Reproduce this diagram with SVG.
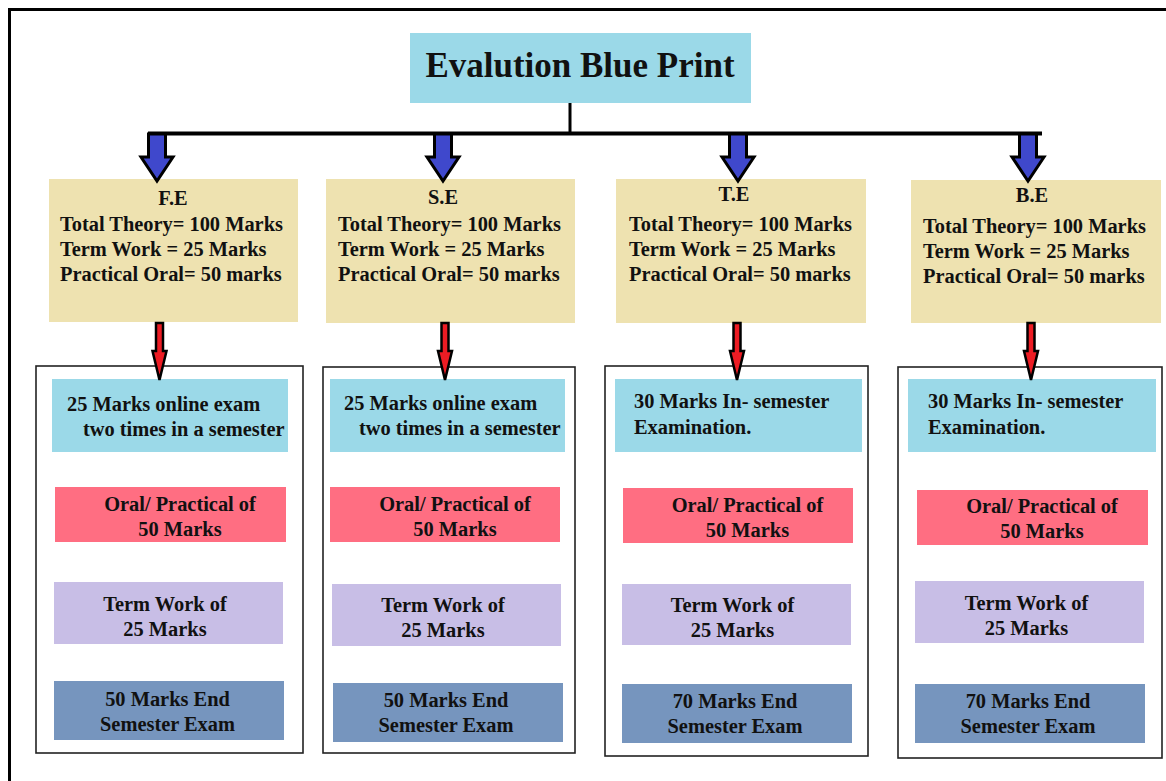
<svg xmlns="http://www.w3.org/2000/svg" xmlns:xlink="http://www.w3.org/1999/xlink" width="1166" height="781" viewBox="0 0 1166 781">
<style>
text{font-family:"Liberation Serif","Times New Roman",serif;font-weight:bold;fill:#111;}
.title{font-size:35px;}
.t{font-size:20.4px;}
.mid{text-anchor:middle;}
.tan{fill:#EEE2B0;}
.cyan{fill:#9BD9E8;}
.pink{fill:#FF6E82;}
.lav{fill:#C8BEE6;}
.steel{fill:#7695BE;}
.col{fill:#fff;stroke:#222;stroke-width:1.6;}
.blue{fill:#3F48CC;stroke:#000;stroke-width:3;stroke-linejoin:miter;}
.red{fill:#ED1C24;stroke:#000;stroke-width:2.5;stroke-linejoin:miter;}
.line{stroke:#000;fill:none;}
</style>
<defs>
<path id="barrow" d="M-8.5,0 H8.5 V23 H16 L0,47 L-16,23 H-8.5 Z"/>
<path id="rarrow" d="M-3.5,0 H3.5 V28 H7 L0,57 L-7,28 H-3.5 Z"/>
</defs>
<rect width="1166" height="781" fill="#fff"/>
<g id="frame">
<path class="line" d="M9.5,781 V9.5 H1166" stroke-width="3"/>
</g>
<g id="title">
<rect x="410" y="33" width="341" height="70" class="cyan"/>
<text x="580" y="77" class="title mid">Evalution Blue Print</text>
</g>
<g id="fe">
<rect x="49" y="179" width="249" height="143" class="tan"/>
<text x="173" y="205" class="t mid">F.E</text>
<text x="60" y="231" class="t">Total Theory= 100 Marks</text>
<text x="60" y="256" class="t">Term Work = 25 Marks</text>
<text x="60" y="281" class="t">Practical Oral= 50 marks</text>
</g>
<g id="se">
<rect x="326" y="179" width="249" height="144" class="tan"/>
<text x="443" y="204" class="t mid">S.E</text>
<text x="338" y="231" class="t">Total Theory= 100 Marks</text>
<text x="338" y="256" class="t">Term Work = 25 Marks</text>
<text x="338" y="281" class="t">Practical Oral= 50 marks</text>
</g>
<g id="te">
<rect x="616" y="179" width="250" height="144" class="tan"/>
<text x="734" y="201" class="t mid">T.E</text>
<text x="629" y="231" class="t">Total Theory= 100 Marks</text>
<text x="629" y="256" class="t">Term Work = 25 Marks</text>
<text x="629" y="281" class="t">Practical Oral= 50 marks</text>
</g>
<g id="be">
<rect x="911" y="180" width="250" height="143" class="tan"/>
<text x="1032" y="202" class="t mid">B.E</text>
<text x="923" y="233" class="t">Total Theory= 100 Marks</text>
<text x="923" y="258" class="t">Term Work = 25 Marks</text>
<text x="923" y="283" class="t">Practical Oral= 50 marks</text>
</g>
<g id="fe-detail">
<rect x="36" y="366" width="267" height="387" class="col"/>
<rect x="52" y="379" width="236" height="73" class="cyan"/>
<text x="67" y="411" class="t">25 Marks online exam</text>
<text x="83" y="436" class="t">two times in a semester</text>
<rect x="55" y="487" width="231" height="55" class="pink"/>
<text x="180" y="511" class="t mid">Oral/ Practical of</text>
<text x="180" y="536" class="t mid">50 Marks</text>
<rect x="54" y="582" width="229" height="62" class="lav"/>
<text x="165" y="611" class="t mid">Term Work of</text>
<text x="165" y="636" class="t mid">25 Marks</text>
<rect x="54" y="681" width="230" height="59" class="steel"/>
<text x="167.5" y="706" class="t mid">50 Marks End</text>
<text x="167.5" y="731" class="t mid">Semester Exam</text>
</g>
<g id="se-detail">
<rect x="323" y="367" width="252" height="386" class="col"/>
<rect x="330" y="379" width="235" height="73" class="cyan"/>
<text x="344" y="410" class="t">25 Marks online exam</text>
<text x="359" y="435" class="t">two times in a semester</text>
<rect x="330" y="487" width="230" height="55" class="pink"/>
<text x="455" y="511" class="t mid">Oral/ Practical of</text>
<text x="455" y="536" class="t mid">50 Marks</text>
<rect x="332" y="584" width="229" height="62" class="lav"/>
<text x="443" y="612" class="t mid">Term Work of</text>
<text x="443" y="637" class="t mid">25 Marks</text>
<rect x="333" y="683" width="230" height="59" class="steel"/>
<text x="446" y="707" class="t mid">50 Marks End</text>
<text x="446" y="732" class="t mid">Semester Exam</text>
</g>
<g id="te-detail">
<rect x="605" y="366" width="263" height="390" class="col"/>
<rect x="615" y="379" width="247" height="73" class="cyan"/>
<text x="634" y="408" class="t">30 Marks In- semester</text>
<text x="634" y="434" class="t">Examination.</text>
<rect x="623" y="488" width="230" height="55" class="pink"/>
<text x="747.5" y="512" class="t mid">Oral/ Practical of</text>
<text x="747.5" y="537" class="t mid">50 Marks</text>
<rect x="622" y="584" width="229" height="61" class="lav"/>
<text x="732.5" y="612" class="t mid">Term Work of</text>
<text x="732.5" y="637" class="t mid">25 Marks</text>
<rect x="622" y="684" width="230" height="59" class="steel"/>
<text x="735" y="708" class="t mid">70 Marks End</text>
<text x="735" y="733" class="t mid">Semester Exam</text>
</g>
<g id="be-detail">
<rect x="898" y="367" width="264" height="391" class="col"/>
<rect x="908" y="379" width="248" height="73" class="cyan"/>
<text x="928" y="408" class="t">30 Marks In- semester</text>
<text x="928" y="434" class="t">Examination.</text>
<rect x="917" y="490" width="231" height="55" class="pink"/>
<text x="1042" y="513" class="t mid">Oral/ Practical of</text>
<text x="1042" y="538" class="t mid">50 Marks</text>
<rect x="915" y="581" width="229" height="62" class="lav"/>
<text x="1026.5" y="610" class="t mid">Term Work of</text>
<text x="1026.5" y="635" class="t mid">25 Marks</text>
<rect x="915" y="684" width="230" height="59" class="steel"/>
<text x="1028" y="708" class="t mid">70 Marks End</text>
<text x="1028" y="733" class="t mid">Semester Exam</text>
</g>
<g id="connectors">
<line class="line" x1="570" y1="103" x2="570" y2="135" stroke-width="3"/>
<line class="line" x1="148" y1="133.5" x2="1042" y2="133.5" stroke-width="4"/>
<use xlink:href="#barrow" class="blue" x="157" y="134"/>
<use xlink:href="#barrow" class="blue" x="443" y="134"/>
<use xlink:href="#barrow" class="blue" x="738" y="134"/>
<use xlink:href="#barrow" class="blue" x="1028" y="134"/>
<use xlink:href="#rarrow" class="red" x="159.5" y="323"/>
<use xlink:href="#rarrow" class="red" x="445" y="323"/>
<use xlink:href="#rarrow" class="red" x="737" y="323"/>
<use xlink:href="#rarrow" class="red" x="1031" y="323"/>
</g>
</svg>
